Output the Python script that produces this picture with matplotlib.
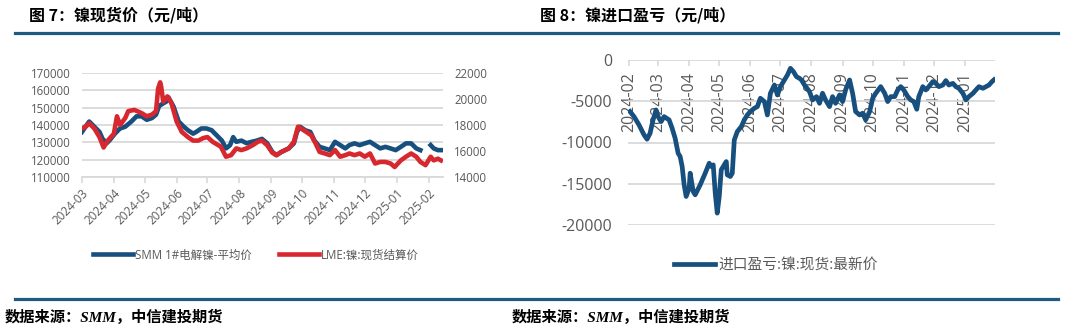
import numpy as np
import pandas as pd
import matplotlib.pyplot as plt
import matplotlib.dates as mdates

plt.rcParams['font.family'] = ['Open Sans', 'Noto Sans CJK SC', 'DejaVu Sans']
plt.rcParams['axes.unicode_minus'] = False

W, H = 1080, 336

# ---- 图7 镍现货价 ----
smm_dates = ['2024-03-01', '2024-03-05', '2024-03-08', '2024-03-13', '2024-03-18', '2024-03-21',
             '2024-03-25', '2024-03-28', '2024-04-02', '2024-04-07', '2024-04-12', '2024-04-18',
             '2024-04-23', '2024-04-28', '2024-05-03', '2024-05-08', '2024-05-12', '2024-05-15',
             '2024-05-19', '2024-05-22', '2024-05-24', '2024-05-29', '2024-06-03', '2024-06-08',
             '2024-06-12', '2024-06-17', '2024-06-20', '2024-06-25', '2024-06-30', '2024-07-05',
             '2024-07-10', '2024-07-15', '2024-07-19', '2024-07-23', '2024-07-26', '2024-07-29',
             '2024-08-03', '2024-08-08', '2024-08-13', '2024-08-18', '2024-08-23', '2024-08-28',
             '2024-09-02', '2024-09-06', '2024-09-11', '2024-09-18', '2024-09-23', '2024-09-26',
             '2024-09-29', '2024-10-04', '2024-10-09', '2024-10-13', '2024-10-18', '2024-10-23',
             '2024-10-28', '2024-11-02', '2024-11-07', '2024-11-12', '2024-11-16', '2024-11-21',
             '2024-11-26', '2024-12-01', '2024-12-06', '2024-12-11', '2024-12-16', '2024-12-21',
             '2024-12-26', '2024-12-31', '2025-01-05', '2025-01-10', '2025-01-15', '2025-01-20',
             '2025-01-24', '2025-01-28', '2025-02-03', '2025-02-06', '2025-02-10', '2025-02-13']
smm_price = [136000, 139500, 142000, 139000, 136000, 132000,
             129500, 131300, 135000, 138000, 139000, 142000,
             145000, 145000, 143000, 144000, 146000, 151000,
             152500, 153500, 156000, 150600, 142000, 139000,
             137000, 135000, 136000, 138000, 138000, 137000,
             134000, 131000, 126500, 128400, 133000, 130300,
             131000, 129500, 130300, 131000, 132000, 129500,
             124500, 122600, 124500, 126500, 129400, 136000,
             139000, 137000, 136000, 131000, 127400, 126500,
             125500, 130300, 128400, 126500, 128400, 129400,
             128400, 129400, 130300, 128400, 126500, 127400,
             126500, 125500, 127400, 129400, 129400, 126500,
             125500, np.nan, 128400, 126500, 125500, 125500]

lme_dates = ['2024-03-01', '2024-03-05', '2024-03-08', '2024-03-13', '2024-03-18', '2024-03-22',
             '2024-03-26', '2024-04-01', '2024-04-04', '2024-04-07', '2024-04-12', '2024-04-15',
             '2024-04-21', '2024-04-28', '2024-05-03', '2024-05-08', '2024-05-12', '2024-05-14',
             '2024-05-16', '2024-05-17', '2024-05-19', '2024-05-23', '2024-05-27', '2024-06-01',
             '2024-06-06', '2024-06-12', '2024-06-17', '2024-06-22', '2024-06-27', '2024-07-01',
             '2024-07-06', '2024-07-14', '2024-07-19', '2024-07-24', '2024-07-29', '2024-08-03',
             '2024-08-08', '2024-08-14', '2024-08-19', '2024-08-23', '2024-08-28', '2024-09-02',
             '2024-09-06', '2024-09-11', '2024-09-18', '2024-09-23', '2024-09-27', '2024-09-30',
             '2024-10-05', '2024-10-10', '2024-10-14', '2024-10-18', '2024-10-23', '2024-10-28',
             '2024-11-02', '2024-11-07', '2024-11-12', '2024-11-16', '2024-11-21', '2024-11-26',
             '2024-12-01', '2024-12-06', '2024-12-11', '2024-12-16', '2024-12-21', '2024-12-26',
             '2024-12-30', '2025-01-05', '2025-01-10', '2025-01-15', '2025-01-20', '2025-01-24',
             '2025-01-29', '2025-02-03', '2025-02-06', '2025-02-10', '2025-02-13']
lme_price = [17730, 17900, 18130, 17730, 17070, 16270,
             16800, 17330, 18670, 18000, 18530, 19070,
             19160, 18910, 18670, 18800, 19070, 20800,
             21280, 20930, 19800, 20200, 19680, 18270,
             17470, 17070, 16800, 16800, 17000, 17070,
             16710, 16330, 15560, 15680, 16200, 16070,
             16200, 16450, 16710, 16800, 16450, 15870,
             15680, 15930, 16200, 16710, 17870, 17730,
             17470, 17200, 16600, 15930, 15810, 15680,
             16070, 15560, 15680, 15810, 15680, 15810,
             15560, 15810, 15040, 15160, 15160, 15040,
             14770, 15280, 15560, 15810, 15560, 15160,
             14910, 15560, 15280, 15410, 15280]

# ---- 图8 镍进口盈亏 ----
imp_dates = ['2024-02-02', '2024-02-06', '2024-02-11', '2024-02-16', '2024-02-19', '2024-02-22',
             '2024-02-25', '2024-02-28', '2024-03-01', '2024-03-04', '2024-03-07', '2024-03-12',
             '2024-03-15', '2024-03-18', '2024-03-21', '2024-03-23', '2024-03-25', '2024-03-27',
             '2024-03-29', '2024-04-01', '2024-04-02', '2024-04-05', '2024-04-07', '2024-04-12',
             '2024-04-17', '2024-04-21', '2024-04-23', '2024-04-25', '2024-04-27', '2024-04-29',
             '2024-05-01', '2024-05-03', '2024-05-06', '2024-05-08', '2024-05-09', '2024-05-12',
             '2024-05-14', '2024-05-16', '2024-05-19', '2024-05-23', '2024-05-26', '2024-05-29',
             '2024-06-01', '2024-06-05', '2024-06-08', '2024-06-11', '2024-06-15', '2024-06-18',
             '2024-06-21', '2024-06-25', '2024-06-28', '2024-07-01', '2024-07-04', '2024-07-08',
             '2024-07-11', '2024-07-14', '2024-07-17', '2024-07-20', '2024-07-22', '2024-07-25',
             '2024-07-30', '2024-08-02', '2024-08-06', '2024-08-09', '2024-08-12', '2024-08-15',
             '2024-08-19', '2024-08-22', '2024-08-25', '2024-08-29', '2024-09-01', '2024-09-04',
             '2024-09-08', '2024-09-11', '2024-09-14', '2024-09-18', '2024-09-21', '2024-09-24',
             '2024-09-28', '2024-10-01', '2024-10-04', '2024-10-09', '2024-10-13', '2024-10-16',
             '2024-10-19', '2024-10-23', '2024-10-26', '2024-10-29', '2024-11-01', '2024-11-05',
             '2024-11-08', '2024-11-11', '2024-11-14', '2024-11-16', '2024-11-20', '2024-11-23',
             '2024-11-26', '2024-11-30', '2024-12-03', '2024-12-06', '2024-12-10', '2024-12-13',
             '2024-12-16', '2024-12-20', '2024-12-23', '2024-12-26', '2024-12-30', '2025-01-02',
             '2025-01-05', '2025-01-09', '2025-01-12', '2025-01-15', '2025-01-19', '2025-01-22',
             '2025-01-25', '2025-01-28', '2025-01-30']
imp_profit = [-6250, -6860, -7870, -9080, -9600, -8880,
              -7260, -6050, -6860, -7470, -6860, -7260,
              -8270, -9480, -11300, -11700, -12900, -15130,
              -16540, -15530, -13720, -15940, -16340, -15130,
              -13720, -12510, -12910, -12710, -16140, -18560,
              -16540, -13310, -12710, -12310, -13920, -14120,
              -13720, -9690, -8680, -8070, -7260, -6660,
              -6250, -5850, -5650, -4640, -5040, -6660,
              -4040, -3030, -4240, -3230, -2620, -1820,
              -1010, -1410, -2020, -2220, -2420, -3030,
              -3830, -4840, -4440, -5250, -4030, -4840,
              -5650, -4440, -5250, -4240, -5040, -3630,
              -2420, -4040, -6250, -6660, -6450, -7260,
              -6250, -4640, -4040, -3230, -4040, -5040,
              -4440, -4440, -3630, -3230, -3630, -4440,
              -4840, -5040, -5970, -4440, -3230, -3630,
              -3230, -2620, -2830, -3230, -3030, -2500,
              -3030, -2830, -3230, -3430, -4040, -4840,
              -4440, -4040, -3630, -3230, -3430, -3230,
              -3030, -2620, -2400]

blue = '#17507e'
red = '#d8282f'
grid_c = '#d9d9d9'
tick_c = '#595959'
rule_c = '#1f5b80'


def px(x, y):
    return x / W, 1 - y / H


fig = plt.figure(figsize=(W / 100, H / 100), dpi=100)

# titles, rules and sources
fig.text(*px(29, 15), '图 7：镍现货价（元/吨）', fontsize=11.5, fontweight='bold',
         family=['Noto Sans CJK SC'], va='center', ha='left')
fig.text(*px(540, 15), '图 8：镍进口盈亏（元/吨）', fontsize=11.5, fontweight='bold',
         family=['Noto Sans CJK SC'], va='center', ha='left')
fig.add_artist(plt.Line2D([15 / W, 1058 / W], [1 - 33 / H] * 2, color=rule_c, lw=2.3))
fig.add_artist(plt.Line2D([15 / W, 1058 / W], [1 - 299 / H] * 2, color=rule_c, lw=2.3))
src_font = ['Liberation Serif', 'Noto Sans CJK SC']
fig.text(*px(5, 317), '数据来源：SMM，中信建投期货', fontsize=11, fontweight='bold',
         style='italic', family=src_font, va='center', ha='left')
fig.text(*px(512, 317), '数据来源：SMM，中信建投期货', fontsize=11, fontweight='bold',
         style='italic', family=src_font, va='center', ha='left')

# ---- left chart ----
smm = pd.Series(smm_price, index=pd.to_datetime(smm_dates))
lme = pd.Series(lme_price, index=pd.to_datetime(lme_dates))

ax1 = fig.add_axes([82 / W, 1 - 177 / H, 361 / W, 104 / H])
ax2 = ax1.twinx()
l1, = ax1.plot(smm.index, smm.values, color=blue, lw=3.3, solid_joinstyle='round',
               label='SMM 1#电解镍-平均价')
l2, = ax2.plot(lme.index, lme.values, color=red, lw=3.3, solid_joinstyle='round',
               label='LME:镍:现货结算价')
ax1.set_ylim(110000, 170000)
ax1.set_yticks(range(110000, 170001, 10000))
ax2.set_ylim(14000, 22000)
ax2.set_yticks(range(14000, 22001, 2000))
ax1.set_xlim(pd.Timestamp('2024-03-01'), pd.Timestamp('2025-02-15'))
ax1.yaxis.grid(True, color=grid_c, lw=1.3)
ax1.set_axisbelow(True)
for a in (ax1, ax2):
    for s in a.spines.values():
        s.set_visible(False)
ax1.spines['bottom'].set_visible(True)
ax1.spines['bottom'].set_color(grid_c)
ax1.spines['bottom'].set_linewidth(1.3)
ax1.xaxis.set_major_locator(mdates.MonthLocator())
ax1.xaxis.set_major_formatter(mdates.DateFormatter('%Y-%m'))
ax1.tick_params(axis='x', colors=grid_c, labelcolor=tick_c, length=4, width=1.2,
                labelsize=8.5, pad=3)
for lab in ax1.get_xticklabels():
    lab.set_rotation(45)
    lab.set_ha('right')
    lab.set_rotation_mode('anchor')
ax1.tick_params(axis='y', length=0, labelsize=8.3, labelcolor=tick_c, pad=8)
ax2.tick_params(axis='y', length=0, labelsize=8.3, labelcolor=tick_c, pad=8)

fig.legend(handles=[l1, l2], loc='center', bbox_to_anchor=px(256, 255), ncol=2,
           frameon=False, fontsize=8.3, labelcolor=tick_c, handlelength=3.5,
           handletextpad=0.2, columnspacing=2.3, borderpad=0)

# ---- right chart ----
imp = pd.Series(imp_profit, index=pd.to_datetime(imp_dates))
ax3 = fig.add_axes([628 / W, 1 - 225 / H, 367 / W, 165 / H])
l3, = ax3.plot(imp.index, imp.values, color=blue, lw=3.4, solid_joinstyle='round',
               label='进口盈亏:镍:现货:最新价')
ax3.set_ylim(-20000, 0)
ax3.set_yticks(range(-20000, 1, 5000))
ax3.set_xlim(pd.Timestamp('2024-01-31'), pd.Timestamp('2025-01-31'))
ax3.yaxis.grid(True, color=grid_c, lw=1.3)
ax3.set_axisbelow(True)
for s in ax3.spines.values():
    s.set_visible(False)
ax3.xaxis.set_major_locator(mdates.MonthLocator())
ax3.xaxis.set_major_formatter(mdates.DateFormatter('%Y-%m'))
ax3.xaxis.set_ticks_position('top')
ax3.tick_params(axis='x', direction='in', length=4, width=1.2, colors=grid_c,
                labelcolor=tick_c, labeltop=True, labelbottom=False,
                labelsize=11.5, pad=-8.6)
for t in ax3.xaxis.get_major_ticks():
    t.label2.set_rotation(90)
    t.label2.set_va('top')
    t.label2.set_ha('center')
ax3.tick_params(axis='y', length=0, labelsize=11.5, labelcolor=tick_c, pad=11.5)

fig.legend(handles=[l3], loc='center', bbox_to_anchor=px(776, 266), frameon=False,
           fontsize=10.6, labelcolor=tick_c, handlelength=2.8, handletextpad=0.2,
           borderpad=0)

fig.savefig('out.png', dpi=100)
